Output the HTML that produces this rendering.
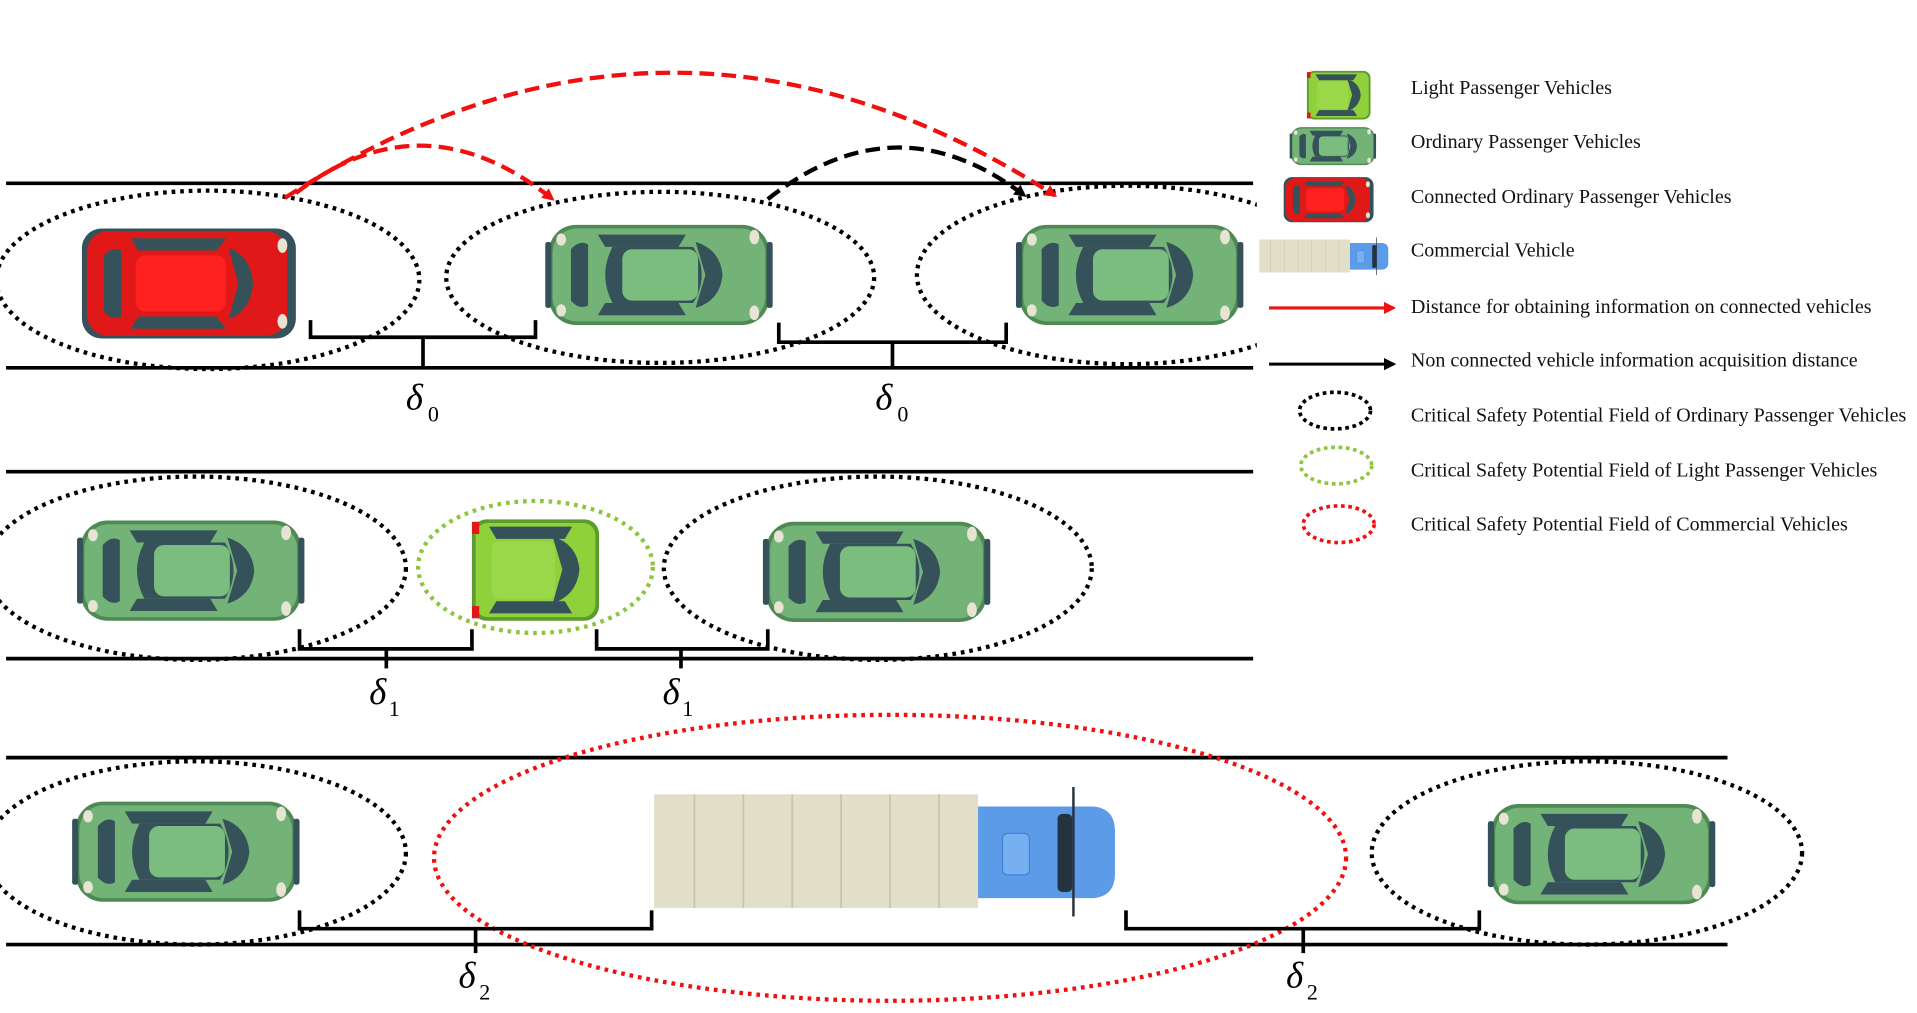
<!DOCTYPE html>
<html><head><meta charset="utf-8"><style>
html,body{margin:0;padding:0;background:#fff;overflow:hidden}
svg{display:block}
text{font-family:"Liberation Serif",serif}
</style></head><body>
<svg width="1917" height="1013" viewBox="0 0 1568 829" preserveAspectRatio="none" xmlns="http://www.w3.org/2000/svg">
<defs>
<g id="gcar">
<rect x="0" y="0" width="180" height="82" rx="22" fill="#4f8a55"/>
<rect x="3" y="3" width="174" height="76" rx="20" fill="#74b377"/>
<rect x="-3" y="14" width="5" height="54" rx="2" fill="#35525a"/>
<rect x="178" y="14" width="5" height="54" rx="2" fill="#35525a"/>
<path d="M18 20 Q25 12 32 16 L32 66 Q25 70 18 62 Z" fill="#35525a"/>
<path d="M120 14 Q140 20 142 41 Q140 62 120 68 L128 41 Z" fill="#35525a"/>
<path d="M40 8 L112 8 L106 18 L46 18 Z" fill="#35525a"/>
<path d="M40 74 L112 74 L106 64 L46 64 Z" fill="#35525a"/>
<path d="M52 18 L118 18 Q132 41 118 64 L52 64 Q40 41 52 18 Z" fill="#35525a"/>
<rect x="60" y="20" width="62" height="42" rx="8" fill="#7bbd7e"/>
<ellipse cx="168" cy="10" rx="4" ry="6" fill="#e8e4d4"/>
<ellipse cx="168" cy="72" rx="4" ry="6" fill="#e8e4d4"/>
<ellipse cx="10" cy="12" rx="4" ry="5" fill="#e8e4d4"/>
<ellipse cx="10" cy="70" rx="4" ry="5" fill="#e8e4d4"/>
</g>
<g id="rcar">
<rect x="0" y="0" width="175" height="90" rx="16" fill="#35525a"/>
<rect x="4" y="2" width="164" height="86" rx="18" fill="#e01818"/>
<path d="M18 22 Q25 14 32 18 L32 72 Q25 76 18 68 Z" fill="#35525a"/>
<path d="M120 16 Q138 22 140 45 Q138 68 120 74 L128 45 Z" fill="#35525a"/>
<path d="M40 8 L118 8 L110 18 L46 18 Z" fill="#35525a"/>
<path d="M40 82 L118 82 L110 72 L46 72 Z" fill="#35525a"/>
<rect x="44" y="22" width="74" height="46" rx="8" fill="#ff2020"/>
<ellipse cx="164" cy="14" rx="4" ry="6" fill="#e8e4d4"/>
<ellipse cx="164" cy="76" rx="4" ry="6" fill="#e8e4d4"/>
</g>
<g id="lcar">
<rect x="0" y="0" width="104" height="83" rx="12" fill="#5f9a2e"/>
<rect x="3" y="3" width="98" height="77" rx="10" fill="#8fd13a"/>
<path d="M14 6 L82 6 L76 16 L20 16 Z" fill="#35525a"/>
<path d="M14 77 L82 77 L76 67 L20 67 Z" fill="#35525a"/>
<path d="M66 14 Q86 20 88 41 Q86 62 66 69 L74 41 Z" fill="#35525a"/>
<rect x="16" y="18" width="52" height="47" rx="6" fill="#9ad84a"/>
<rect x="0" y="2" width="6" height="10" fill="#e01818"/>
<rect x="0" y="71" width="6" height="10" fill="#e01818"/>
</g>
<g id="truck">
<rect x="0" y="0" width="265" height="93" fill="#e2dfc9"/>
<g stroke="#c9c5ad" stroke-width="1.5">
<line x1="33" y1="0" x2="33" y2="93"/><line x1="73" y1="0" x2="73" y2="93"/><line x1="113" y1="0" x2="113" y2="93"/><line x1="153" y1="0" x2="153" y2="93"/><line x1="193" y1="0" x2="193" y2="93"/><line x1="233" y1="0" x2="233" y2="93"/>
</g>
<path d="M265 10 L360 10 Q377 12 377 30 L377 65 Q377 83 360 85 L265 85 Z" fill="#5b9be8"/>
<rect x="285" y="32" width="22" height="34" rx="4" fill="#76b0f0" stroke="#3f82d2"/>
<rect x="330" y="16" width="12" height="64" rx="4" fill="#253240"/>
<line x1="343" y1="-6" x2="343" y2="100" stroke="#253240" stroke-width="2"/>
</g>
<marker id="ar" markerWidth="10" markerHeight="10" refX="8" refY="5" orient="auto" markerUnits="userSpaceOnUse"><path d="M0 0 L10 5 L0 10 Z" fill="#f01010"/></marker>
<marker id="ak" markerWidth="10" markerHeight="10" refX="8" refY="5" orient="auto" markerUnits="userSpaceOnUse"><path d="M0 0 L10 5 L0 10 Z" fill="#000"/></marker>
</defs>

<g stroke="#000" stroke-width="3">
<line x1="5" y1="150" x2="1025" y2="150"/><line x1="5" y1="301" x2="1025" y2="301"/>
<line x1="5" y1="386" x2="1025" y2="386"/><line x1="5" y1="539" x2="1025" y2="539"/>
<line x1="5" y1="620" x2="1413" y2="620"/><line x1="5" y1="773" x2="1413" y2="773"/>
</g>

<use href="#rcar" x="67" y="187"/>
<use href="#gcar" x="449" y="184"/>
<use href="#gcar" x="834" y="184"/>
<use href="#gcar" x="66" y="426"/>
<use href="#lcar" x="386" y="425"/>
<use href="#gcar" x="627" y="427"/>
<use href="#gcar" x="62" y="656"/>
<use href="#truck" x="535" y="650"/>
<use href="#gcar" x="1220" y="658"/>

<g fill="none" stroke-width="3.5" stroke-dasharray="3 4">
<ellipse cx="170" cy="229" rx="173" ry="73" stroke="#000"/>
<ellipse cx="540" cy="227" rx="175" ry="70" stroke="#000"/>
<ellipse cx="922" cy="225" rx="172" ry="73" stroke="#000"/>
<ellipse cx="160" cy="465" rx="172" ry="75" stroke="#000"/>
<ellipse cx="438" cy="464" rx="96" ry="54" stroke="#8cc63f"/>
<ellipse cx="718" cy="465" rx="175" ry="75" stroke="#000"/>
<ellipse cx="160" cy="698" rx="172" ry="75" stroke="#000"/>
<ellipse cx="728" cy="702" rx="373" ry="117" stroke="#f01010"/>
<ellipse cx="1298" cy="698" rx="176" ry="75" stroke="#000"/>
</g>
<rect x="1028" y="140" width="540" height="170" fill="#fff"/>

<g fill="none" stroke="#000" stroke-width="3">
<path d="M254 262 V276 H438 V262 M346 276 V301"/>
<path d="M637 264 V280 H823 V264 M730 280 V301"/>
<path d="M245 515 V531 H386 V515 M316 531 V547"/>
<path d="M488 515 V531 H628 V515 M557 531 V547"/>
<path d="M245 745 V760 H533 V745 M389 760 V780"/>
<path d="M921 745 V760 H1210 V745 M1066 760 V780"/>
</g>
<g font-style="italic" font-size="30">
<text x="332" y="335">δ</text><text x="350" y="345" font-size="18" font-style="normal">0</text>
<text x="716" y="335">δ</text><text x="734" y="345" font-size="18" font-style="normal">0</text>
<text x="302" y="576">δ</text><text x="318" y="586" font-size="18" font-style="normal">1</text>
<text x="542" y="576">δ</text><text x="558" y="586" font-size="18" font-style="normal">1</text>
<text x="375" y="808">δ</text><text x="392" y="818" font-size="18" font-style="normal">2</text>
<text x="1052" y="808">δ</text><text x="1069" y="818" font-size="18" font-style="normal">2</text>
</g>

<g fill="none" stroke-width="3.5" stroke-dasharray="12 6">
<path d="M233 162 Q549 -42 863 160" stroke="#f01010" marker-end="url(#ar)"/>
<path d="M242 158 Q346 78 452 163" stroke="#f01010" marker-end="url(#ar)"/>
<path d="M628 163 Q733 80 838 160" stroke="#000" marker-end="url(#ak)"/>
</g>

<use href="#lcar" transform="translate(1069 58) scale(0.5 0.48)"/>
<use href="#gcar" transform="translate(1056 104) scale(0.38 0.38)"/>
<use href="#rcar" transform="translate(1050 145) scale(0.42 0.41)"/>
<use href="#truck" transform="translate(1030 196) scale(0.28 0.29)"/>
<line x1="1038" y1="252" x2="1140" y2="252" stroke="#f01010" stroke-width="2.5" marker-end="url(#ar)"/>
<line x1="1038" y1="298" x2="1140" y2="298" stroke="#000" stroke-width="2.5" marker-end="url(#ak)"/>
<g fill="none" stroke-width="3" stroke-dasharray="3 3">
<ellipse cx="1092" cy="336" rx="29" ry="15" stroke="#000"/>
<ellipse cx="1093" cy="381" rx="29" ry="15" stroke="#8cc63f"/>
<ellipse cx="1095" cy="429" rx="29" ry="15" stroke="#f01010"/>
</g>
<g font-size="16.4" fill="#111">
<text x="1154" y="77">Light Passenger Vehicles</text>
<text x="1154" y="121">Ordinary Passenger Vehicles</text>
<text x="1154" y="166">Connected Ordinary Passenger Vehicles</text>
<text x="1154" y="210">Commercial Vehicle</text>
<text x="1154" y="256">Distance for obtaining information on connected vehicles</text>
<text x="1154" y="300">Non connected vehicle information acquisition distance</text>
<text x="1154" y="345">Critical Safety Potential Field of Ordinary Passenger Vehicles</text>
<text x="1154" y="390">Critical Safety Potential Field of Light Passenger Vehicles</text>
<text x="1154" y="434">Critical Safety Potential Field of Commercial Vehicles</text>
</g>
</svg>
</body></html>
